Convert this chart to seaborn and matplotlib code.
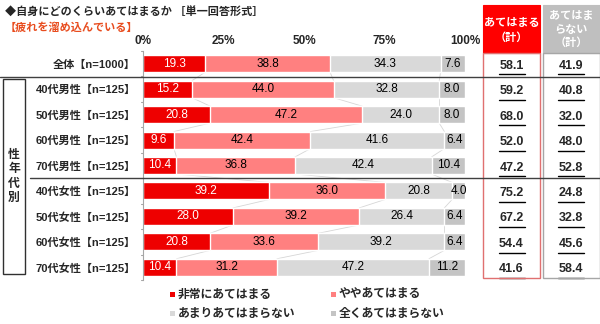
import matplotlib
matplotlib.use("Agg")
import matplotlib.pyplot as plt
from matplotlib.patches import Rectangle
from matplotlib.lines import Line2D
import numpy as np
import seaborn as sns

sns.set_theme(style="white")
plt.rcParams["font.family"] = ["Liberation Sans", "Noto Sans CJK JP", "DejaVu Sans"]

# ---- data ----
groups = ["全体【n=1000】",
          "40代男性【n=125】", "50代男性【n=125】", "60代男性【n=125】", "70代男性【n=125】",
          "40代女性【n=125】", "50代女性【n=125】", "60代女性【n=125】", "70代女性【n=125】"]
very_much = [19.3, 15.2, 20.8, 9.6, 10.4, 39.2, 28.0, 20.8, 10.4]
somewhat = [38.8, 44.0, 47.2, 42.4, 36.8, 36.0, 39.2, 33.6, 31.2]
not_really = [34.3, 32.8, 24.0, 41.6, 42.4, 20.8, 26.4, 39.2, 47.2]
not_at_all = [7.6, 8.0, 8.0, 6.4, 10.4, 4.0, 6.4, 6.4, 11.2]
series_names = ["非常にあてはまる", "ややあてはまる", "あまりあてはまらない", "全くあてはまらない"]
x_ticks = [0, 25, 50, 75, 100]
x_tick_labels = ["0%", "25%", "50%", "75%", "100%"]
title = "◆自身にどのくらいあてはまるか ［単一回答形式］"
subtitle = "【疲れを溜め込んでいる】"
side_label = "性\n年\n代\n別"
head_yes = "あてはまる\n（計）"
head_no = "あてはま\nらない\n（計）"

colors = ["#EE0000", "#FF8080", "#D9D9D9", "#C4C4C4"]

W, H = 600, 324
fig = plt.figure(figsize=(W / 100, H / 100), dpi=100)


def fx(px):
    return px / W


def fy(py):
    return 1 - py / H


# main bar axes: 0%..100% spans px 143..465, rows span px 51..280
ax = fig.add_axes([fx(143), fy(280), fx(465 - 143), (280 - 51) / H])

series = np.array([very_much, somewhat, not_really, not_at_all])
cum = np.cumsum(series, axis=0)
bar_h = 0.67

# stacked bars: draw cumulative totals from the outermost inward
for k in range(3, -1, -1):
    sns.barplot(x=cum[k], y=groups, orient="h", color=colors[k], width=bar_h,
                saturation=1, ax=ax, zorder=2)

# series lines joining segment boundaries of neighbouring bars
n = len(groups)
for k in range(3):
    for i in range(n - 1):
        ax.plot([cum[k][i], cum[k][i + 1]], [i + bar_h / 2, i + 1 - bar_h / 2],
                color="#D6D6D6", lw=0.6, zorder=1)

# segment value labels
for k in range(4):
    for i in range(n):
        v = series[k][i]
        ax.text(cum[k][i] - v / 2, i, f"{v:.1f}", ha="center", va="center",
                fontsize=8.5, color="white" if k == 0 else "black",
                family=["Liberation Sans"], zorder=3)

ax.set_xlim(0, 100)
ax.set_ylim(n - 0.5, -0.5)
ax.set_xlabel("")
ax.set_ylabel("")
ax.xaxis.tick_top()
ax.set_xticks(x_ticks)
ax.set_xticklabels(x_tick_labels, fontsize=8.5, fontweight="bold")
ax.tick_params(axis="x", length=0, pad=3)
ax.set_yticks(range(n))
ax.set_yticklabels(groups, fontsize=8, fontweight="bold")
ax.tick_params(axis="y", length=0, pad=5)
for s in ["top", "right", "bottom"]:
    ax.spines[s].set_visible(False)
ax.spines["left"].set_color("#A6A6A6")
ax.spines["left"].set_linewidth(0.8)
ax.patch.set_alpha(0)
# small outward ticks between rows on the axis line
for b in np.arange(-0.5, n, 1.0):
    ax.plot([-0.6, 0], [b, b], color="#A6A6A6", lw=0.8, clip_on=False)

# titles
fig.text(fx(5), fy(12), title, fontsize=8, fontweight="bold", va="center", ha="left",
         family=["Noto Sans CJK JP"])
fig.text(fx(5), fy(27), subtitle, fontsize=8, fontweight="bold", va="center", ha="left",
         color="#E84C1E", family=["Noto Sans CJK JP"])

# separators
row_px = lambda r: 64 + r * 25.375
fig.add_artist(Line2D([fx(0), fx(600)], [fy(row_px(0.5))] * 2, color="#404040", lw=1))
fig.add_artist(Line2D([fx(30), fx(600)], [fy(row_px(4.5))] * 2, color="#404040", lw=1))

# side group box
fig.add_artist(Rectangle((fx(3), fy(274)), fx(22), (274 - 79) / H, fill=False,
                         edgecolor="#303030", lw=1))
fig.text(fx(14), fy(176), side_label, ha="center", va="center", fontsize=8.5,
         fontweight="bold", linespacing=1.15, family=["Noto Sans CJK JP"])

# summary columns
fig.add_artist(Rectangle((fx(483), fy(53)), fx(57), 48 / H, facecolor="#FF0000",
                         edgecolor="#FF0000", lw=0.8))
fig.add_artist(Rectangle((fx(543), fy(53)), fx(56.5), 48 / H, facecolor="#BFBFBF",
                         edgecolor="#BFBFBF", lw=0.8))
fig.add_artist(Rectangle((fx(483), fy(278)), fx(57), (278 - 53) / H, fill=False,
                         edgecolor="#E07070", lw=1))
fig.add_artist(Rectangle((fx(543), fy(278)), fx(56.5), (278 - 53) / H, fill=False,
                         edgecolor="#A6A6A6", lw=1))
fig.text(fx(511.5), fy(30), head_yes, ha="center", va="center", fontsize=8,
         fontweight="bold", color="white", linespacing=1.25, family=["Noto Sans CJK JP"])
fig.text(fx(571), fy(29), head_no, ha="center", va="center", fontsize=8,
         fontweight="bold", color="white", linespacing=1.05, family=["Noto Sans CJK JP"])

tax = fig.add_axes([fx(483), fy(280), fx(117), (280 - 51) / H])
tax.set_xlim(483, 600)
tax.set_ylim(n - 0.5, -0.5)
tax.axis("off")
yes_tot = cum[1]
no_tot = series[2] + series[3]
for i in range(n):
    for xc, val in ((511.5, yes_tot[i]), (571, no_tot[i])):
        tax.text(xc, i + 0.08, f"{val:.1f}", ha="center", va="center", fontsize=9,
                 fontweight="bold", family=["Liberation Sans"])
        tax.plot([xc - 13, xc + 13], [i + 0.42, i + 0.42], color="black", lw=1)

# legend
leg_items = [(172, 294), (333, 294), (172, 313), (333, 313)]
for (lx, ly), c, name in zip(leg_items, colors, series_names):
    fig.add_artist(Rectangle((fx(lx - 2), fy(ly + 2.5)), fx(5), 5 / H, facecolor=c,
                             edgecolor="none"))
    fig.text(fx(lx + 6), fy(ly), name, ha="left", va="center", fontsize=8.5,
             fontweight="bold", family=["Noto Sans CJK JP"])

fig.savefig("out.png", dpi=100)
